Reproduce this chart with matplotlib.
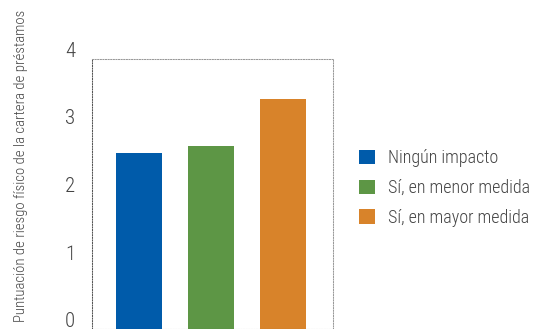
import matplotlib
matplotlib.use("Agg")
import matplotlib.pyplot as plt
from matplotlib.patches import Patch
from matplotlib import transforms
import numpy as np

categories = ["Ningún impacto", "Sí, en menor medida", "Sí, en mayor medida"]
values = [2.60, 2.70, 3.40]
colors = ["#005BAA", "#5D9645", "#D8832A"]
yticks = [0, 1, 2, 3, 4]
ylabel = "Puntuación de riesgo físico de la cartera de préstamos"

plt.rcParams['font.family'] = ['Roboto Condensed', 'DejaVu Sans']
plt.rcParams['font.weight'] = 'light'

W, H = 537, 329
fig = plt.figure(figsize=(W / 100, H / 100), dpi=100)
ax = fig.add_axes([91.7 / W, 0.5 / H, (333 - 91.7) / W, (328.5 - 58.5) / H])

x = np.arange(len(categories))
ax.bar(x, values, width=0.64, color=colors, zorder=2)
ax.set_xlim(-0.66, 2.69)
ax.set_ylim(0, 4)
ax.set_xticks([])
ax.set_yticks(yticks)
ax.set_yticklabels([str(t) for t in yticks], fontsize=15, color="#444444")
ax.tick_params(axis='y', length=0, pad=12)
offset = transforms.ScaledTranslation(0, 9 / 100, fig.dpi_scale_trans)
for lbl in ax.get_yticklabels():
    lbl.set_transform(lbl.get_transform() + offset)

for side in ['left', 'bottom']:
    ax.spines[side].set_linestyle((0, (1, 1.5)))
    ax.spines[side].set_color('#555555')
    ax.spines[side].set_linewidth(0.75)
for side in ['top', 'right']:
    ax.spines[side].set_linestyle((0, (1, 1.5)))
    ax.spines[side].set_color('#999999')
    ax.spines[side].set_linewidth(0.75)

fig.text(21 / W, 1 - 166 / H, ylabel, rotation=90, ha='center', va='center',
         fontsize=10.6, color="#444444")

handles = [Patch(facecolor=c, edgecolor='none') for c in colors]
fig.legend(handles, categories, loc='center left',
           bbox_to_anchor=(343 / W, 1 - 188 / H), frameon=False,
           fontsize=13, labelcolor="#444444", handlelength=0.85, handleheight=0.85,
           handletextpad=0.75, labelspacing=0.65)

fig.savefig("out.png", dpi=100)
